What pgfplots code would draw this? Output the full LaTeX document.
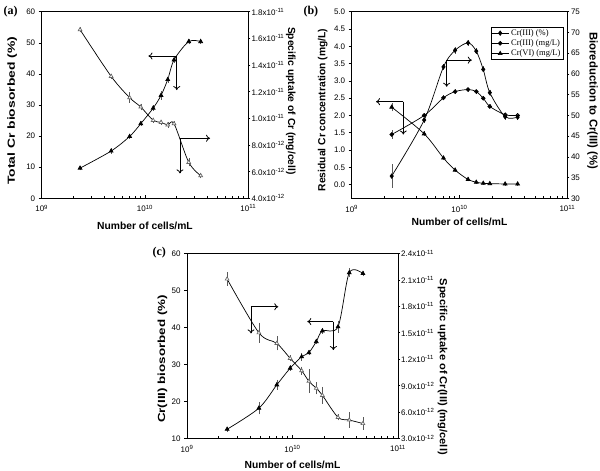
\documentclass[border=0pt]{standalone}
\usepackage{fontspec}
\setmainfont{Liberation Sans}
\newfontfamily\timesf{Liberation Serif}
\usepackage{graphicx}
\usepackage{pgfplots}
\usepackage{pgfplotstable}
\pgfplotsset{compat=1.18}
\usetikzlibrary{arrows.meta}

\pgfplotstableread{
x y e
2.35e9 9.7 0.3
4.7e9 15.2 0.4
7.1e9 19.9 0.4
9.1e9 24.0 0.4
1.2e10 29.0 0.5
1.43e10 33.1 1.0
1.66e10 38.2 0.6
1.91e10 44.5 0.6
2.65e10 50.4 0.5
3.46e10 50.4 0.3
}\aL
\pgfplotstableread{
x y e
2.35e9 16.65 0.1
4.7e9 13.15 0.1
7.1e9 11.55 0.3
9.1e9 10.85 0.15
1.2e10 9.85 0.1
1.43e10 9.7 0.1
1.66e10 9.5 0.1
1.91e10 9.6 0.1
2.65e10 6.7 0.2
3.46e10 5.7 0.1
}\aR
\pgfplotstableread{
x y e
2.35e9 35.4 2.5
4.7e9 48.9 0.4
7.1e9 61.7 0.4
9.1e9 65.7 0.5
1.2e10 67.5 0.4
1.43e10 65.5 0.4
1.66e10 61.1 0.4
1.91e10 55.5 0.4
2.65e10 49.7 0.4
3.46e10 49.6 0.4
}\bP
\pgfplotstableread{
x y e
2.35e9 1.45 0.08
4.7e9 2.0 0.03
7.1e9 2.51 0.03
9.1e9 2.69 0.03
1.2e10 2.75 0.02
1.43e10 2.69 0.02
1.66e10 2.5 0.02
1.91e10 2.26 0.02
2.65e10 2.02 0.02
3.46e10 2.0 0.02
}\bM
\pgfplotstableread{
x y e
2.35e9 2.24 0.08
4.7e9 1.47 0.03
7.1e9 0.77 0.02
9.1e9 0.42 0.02
1.2e10 0.15 0.02
1.43e10 0.07 0.01
1.66e10 0.04 0.01
1.91e10 0.03 0.01
2.65e10 0.02 0.01
3.46e10 0.02 0.01
}\bV
\pgfplotstableread{
x y e
2.4e9 12.5 0.3
4.8e9 18.2 1.3
7.1e9 24.5 1.0
9.5e9 29.0 0.4
1.22e10 32.1 0.7
1.43e10 33.2 0.4
1.68e10 36.2 0.3
1.92e10 39.1 0.4
2.7e10 40.2 1.3
3.45e10 54.8 0.8
4.65e10 54.6 0.4
}\cL
\pgfplotstableread{
x y e
2.4e9 21.1 0.6
4.8e9 15.0 1.0
7.1e9 13.8 0.65
9.5e9 12.1 0.2
1.22e10 10.7 0.3
1.43e10 9.5 1.2
1.68e10 8.7 0.55
1.92e10 7.9 0.8
2.7e10 5.4 0.2
3.45e10 5.1 0.75
4.65e10 4.7 0.55
}\cR

\pgfplotsset{
  every axis/.append style={
    scale only axis, anchor=south west, clip=false,
    tick align=outside,
    major tick length=3pt, minor tick length=2pt,
    tick style={black, line width=0.6pt},
    axis line style={line width=0.8pt},
    tick label style={font=\fontsize{8}{9}\selectfont},
    label style={font=\bfseries\fontsize{10.3}{12}\selectfont},
    /pgf/number format/assume math mode=true,
    every major x tick/.append style={yshift=3pt},
    every minor x tick/.append style={yshift=2pt},
  },
}
\tikzset{arr/.style={line width=0.8pt, -{To[length=4pt,width=7pt]}}}

\begin{document}
\begin{tikzpicture}
\useasboundingbox (0,0) rectangle (600pt,471pt);
% ---------- (a)
\node[anchor=west, font=\timesf\bfseries\fontsize{12}{14}\selectfont] at (0pt,459.5pt) {(a)};
\begin{axis}[at={(41.7pt,272.7pt)}, width=206.6pt, height=186.6pt,
  xmode=log, xmin=1e9, xmax=1e11, xtick={1e9,1e10,1e11},
  xticklabels={10\textsuperscript{9},10\textsuperscript{10},10\textsuperscript{11}},
  minor xtick={2e9,3e9,4e9,5e9,6e9,7e9,8e9,9e9,2e10,3e10,4e10,5e10,6e10,7e10,8e10,9e10},
  xtick pos=bottom, ytick pos=left,
  ymin=0, ymax=60, ytick={0,10,...,60},
  xlabel={Number of cells/mL},
  ylabel={\scalebox{1.35}[1]{Total Cr biosorbed (\%)}},
  ylabel style={at={(axis description cs:-0.143,0.469)}, anchor=center},
  xlabel style={at={(axis description cs:0.5,-0.15)}, anchor=center}]
\addplot[black, line width=0.7pt, smooth, mark=triangle*, mark size=2.2pt, mark options={solid, fill=black},
  error bars/.cd, y dir=both, y explicit, error bar style={line width=0.4pt, gray!70!black}, error mark options={mark size=1.3pt, line width=0.4pt, gray!70!black}]
  table[x=x,y=y,y error=e]{\aL};
\draw[arr] (axis cs:2.03e10,45.75) -- (axis cs:1.08e10,45.75);
\draw[arr] (axis cs:2.03e10,45.75) -- (axis cs:2.03e10,34.8);
\draw[arr] (axis cs:2.18e10,19.3) -- (axis cs:4.26e10,19.3);
\draw[arr] (axis cs:2.18e10,19.3) -- (axis cs:2.18e10,8.0);
\end{axis}
\begin{axis}[at={(41.7pt,272.7pt)}, width=206.6pt, height=186.6pt,
  xmode=log, xmin=1e9, xmax=1e11, hide x axis,
  ytick pos=right, yticklabel pos=right, major tick length=2pt,
  yticklabel style={inner xsep=1pt},
  ymin=4, ymax=18, ytick={4,6,...,18},
  yticklabels={4.0x10\textsuperscript{-12},6.0x10\textsuperscript{-12},8.0x10\textsuperscript{-12},1.0x10\textsuperscript{-11},1.2x10\textsuperscript{-11},1.4x10\textsuperscript{-11},1.6x10\textsuperscript{-11},1.8x10\textsuperscript{-11}},
  ylabel={Specific uptake of Cr (mg/cell)},
  ylabel style={at={(axis description cs:1.205,0.522)}, anchor=center, rotate=180}]
\addplot[black, line width=0.7pt, smooth, mark=triangle*, mark size=2.2pt, mark options={solid, fill=white, draw=gray!80!black},
  error bars/.cd, y dir=both, y explicit, error bar style={line width=0.4pt, gray!70!black}, error mark options={mark size=1.3pt, line width=0.4pt, gray!70!black}]
  table[x=x,y=y,y error=e]{\aR};
\end{axis}
% ---------- (b)
\node[anchor=west, font=\timesf\bfseries\fontsize{12}{14}\selectfont] at (300pt,459.5pt) {(b)};
\begin{axis}[at={(351.7pt,272.5pt)}, width=215.6pt, height=186.8pt,
  xmode=log, xmin=1e9, xmax=1e11, xtick={1e9,1e10,1e11},
  xticklabels={10\textsuperscript{9},10\textsuperscript{10},10\textsuperscript{11}},
  minor xtick={2e9,3e9,4e9,5e9,6e9,7e9,8e9,9e9,2e10,3e10,4e10,5e10,6e10,7e10,8e10,9e10},
  xtick pos=bottom, ytick pos=left,
  ymin=-0.4, ymax=5, ytick={0,0.5,1,1.5,2,2.5,3,3.5,4,4.5,5},
  yticklabel style={/pgf/number format/.cd, fixed, fixed zerofill, precision=1},
  xlabel={Number of cells/mL},
  ylabel={Residual Cr concentration (mg/L)},
  ylabel style={at={(axis description cs:-0.135,0.474)}, anchor=center},
  xlabel style={at={(axis description cs:0.5,-0.124)}, anchor=center}]
\addplot[black, line width=0.7pt, smooth, mark=*, mark size=1.9pt, mark options={solid, fill=black},
  error bars/.cd, y dir=both, y explicit, error bar style={line width=0.4pt, gray!70!black}, error mark options={mark size=1.3pt, line width=0.4pt, gray!70!black}]
  table[x=x,y=y,y error=e]{\bM};
\addplot[black, line width=0.7pt, smooth, mark=triangle*, mark size=2.2pt, mark options={solid, fill=black},
  error bars/.cd, y dir=both, y explicit, error bar style={line width=0.4pt, gray!70!black}, error mark options={mark size=1.3pt, line width=0.4pt, gray!70!black}]
  table[x=x,y=y,y error=e]{\bV};
\draw[arr] (axis cs:3.01e9,2.40) -- (axis cs:1.68e9,2.40);
\draw[arr] (axis cs:3.01e9,2.40) -- (axis cs:3.01e9,1.45);
\draw[arr] (axis cs:7.6e9,3.60) -- (axis cs:1.3e10,3.60);
\draw[arr] (axis cs:7.6e9,3.60) -- (axis cs:7.6e9,2.83);
\end{axis}
\begin{axis}[at={(351.7pt,272.5pt)}, width=215.6pt, height=186.8pt,
  xmode=log, xmin=1e9, xmax=1e11, hide x axis,
  ytick pos=right, yticklabel pos=right, major tick length=2pt,
  yticklabel style={inner xsep=1.5pt},
  ymin=30, ymax=75, ytick={30,35,...,75},
  ylabel={\fontsize{11.3}{13}\selectfont Bioreduction to Cr(III) (\%)},
  ylabel style={at={(axis description cs:1.117,0.523)}, anchor=center, rotate=180},
  legend style={at={(0.981,0.92)}, anchor=north east,
    font=\timesf\fontsize{8.5}{9}\selectfont, draw=black, line width=0.6pt,
    inner sep=0.5pt, row sep=-1.2pt},
  legend cell align=left]
\addplot[black, line width=0.7pt, smooth, mark=diamond*, mark size=2.2pt, mark options={solid, fill=black},
  error bars/.cd, y dir=both, y explicit, error bar style={line width=0.4pt, gray!70!black}, error mark options={mark size=1.3pt, line width=0.4pt, gray!70!black}]
  table[x=x,y=y,y error=e]{\bP};
\addlegendentry{Cr(III) (\%)}
\addlegendimage{black, line width=0.7pt, mark=*, mark size=1.9pt, mark options={solid, fill=black}}
\addlegendentry{Cr(III) (mg/L)}
\addlegendimage{black, line width=0.7pt, mark=triangle*, mark size=2.2pt, mark options={solid, fill=black}}
\addlegendentry{Cr(VI) (mg/L)}
\end{axis}
% ---------- (c)
\node[anchor=west, font=\timesf\bfseries\fontsize{12}{14}\selectfont] at (149pt,218.5pt) {(c)};
\begin{axis}[at={(187pt,32.5pt)}, width=211pt, height=185pt,
  xmode=log, xmin=1e9, xmax=1e11, xtick={1e9,1e10,1e11},
  xticklabels={10\textsuperscript{9},10\textsuperscript{10},10\textsuperscript{11}},
  minor xtick={2e9,3e9,4e9,5e9,6e9,7e9,8e9,9e9,2e10,3e10,4e10,5e10,6e10,7e10,8e10,9e10},
  xtick pos=bottom, ytick pos=left,
  ymin=10, ymax=60, ytick={10,20,...,60},
  xlabel={Number of cells/mL},
  ylabel={\scalebox{1.3}[1]{Cr(III) biosorbed (\%)}},
  ylabel style={at={(axis description cs:-0.116,0.43)}, anchor=center},
  xlabel style={at={(axis description cs:0.5,-0.143)}, anchor=center}]
\addplot[black, line width=0.7pt, smooth, mark=triangle*, mark size=2.2pt, mark options={solid, fill=black},
  error bars/.cd, y dir=both, y explicit, error bar style={line width=0.4pt, gray!70!black}, error mark options={mark size=1.3pt, line width=0.4pt, gray!70!black}]
  table[x=x,y=y,y error=e]{\cL};
\draw[arr] (axis cs:4.04e9,45.6) -- (axis cs:7.33e9,45.6);
\draw[arr] (axis cs:4.04e9,45.6) -- (axis cs:4.04e9,38.4);
\draw[arr] (axis cs:2.44e10,41.6) -- (axis cs:1.38e10,41.6);
\draw[arr] (axis cs:2.44e10,41.6) -- (axis cs:2.44e10,33.9);
\end{axis}
\begin{axis}[at={(187pt,32.5pt)}, width=211pt, height=185pt,
  xmode=log, xmin=1e9, xmax=1e11, hide x axis,
  ytick pos=right, yticklabel pos=right, major tick length=2pt,
  yticklabel style={inner xsep=1pt},
  ymin=3, ymax=24, ytick={3,6,...,24},
  yticklabels={3.0x10\textsuperscript{-12},6.0x10\textsuperscript{-12},9.0x10\textsuperscript{-12},1.2x10\textsuperscript{-11},1.5x10\textsuperscript{-11},1.8x10\textsuperscript{-11},2.1x10\textsuperscript{-11},2.4x10\textsuperscript{-11}},
  ylabel={\scalebox{1.08}[1]{Specific uptake of Cr(III) (mg/cell)}},
  ylabel style={at={(axis description cs:1.211,0.388)}, anchor=center, rotate=180}]
\addplot[black, line width=0.7pt, smooth, mark=triangle*, mark size=2.2pt, mark options={solid, fill=white, draw=gray!80!black},
  error bars/.cd, y dir=both, y explicit, error bar style={line width=0.4pt, gray!70!black}, error mark options={mark size=1.3pt, line width=0.4pt, gray!70!black}]
  table[x=x,y=y,y error=e]{\cR};
\end{axis}
\end{tikzpicture}
\end{document}
